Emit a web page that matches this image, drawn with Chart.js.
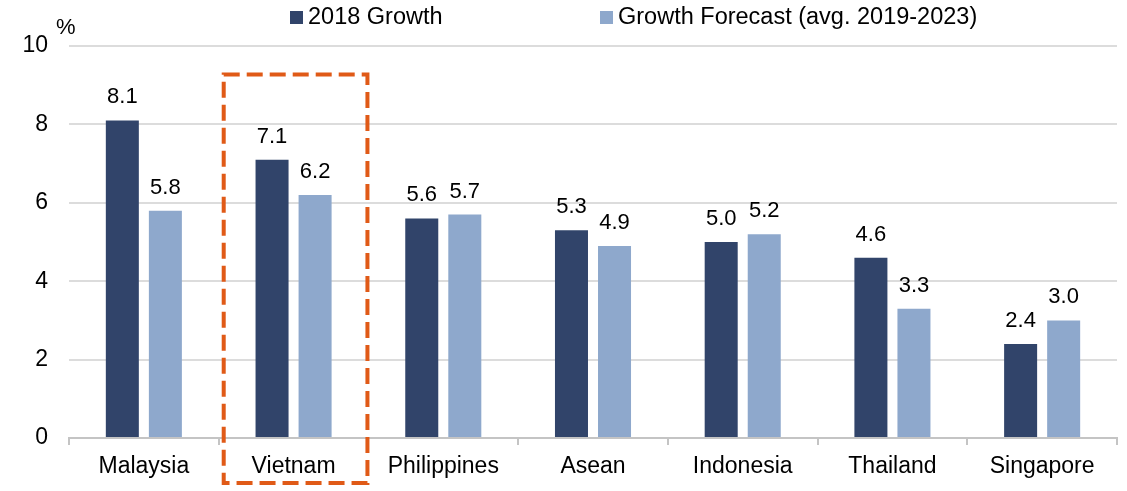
<!DOCTYPE html>
<html>
<head>
<meta charset="utf-8">
<script src="https://cdn.jsdelivr.net/npm/chart.js@4.4.1/dist/chart.umd.min.js"></script>
<style>
  html, body { margin: 0; padding: 0; background: #fff; }
  #wrap { width: 1127px; height: 491px; }
</style>
</head>
<body>
<div id="wrap"><canvas id="chart" width="1127" height="491"></canvas></div>
<script>
const countries = ['Malaysia', 'Vietnam', 'Philippines', 'Asean', 'Indonesia', 'Thailand', 'Singapore'];
const growth2018 = [8.1, 7.1, 5.6, 5.3, 5.0, 4.6, 2.4];
const growthForecast = [5.8, 6.2, 5.7, 4.9, 5.2, 3.3, 3.0];
const yTicks = [0, 2, 4, 6, 8, 10];
const seriesNames = ['2018 Growth', 'Growth Forecast (avg. 2019-2023)'];
const highlighted = 'Vietnam';

const FONT = '"Liberation Sans", Arial, sans-serif';
const DARK = '#31446a';
const LIGHT = '#8ea8cc';
const ORANGE = '#e05a17';

// numbers printed above every bar
const valueLabels = {
    id: 'valueLabels',
    afterDatasetsDraw(chart) {
        const ctx = chart.ctx;
        ctx.save();
        ctx.font = '22px ' + FONT;
        ctx.fillStyle = '#000';
        ctx.textAlign = 'center';
        ctx.textBaseline = 'alphabetic';
        chart.data.datasets.forEach((ds, i) => {
            chart.getDatasetMeta(i).data.forEach((bar, j) => {
                ctx.fillText(ds.data[j].toFixed(1), bar.x, bar.y - 17);
            });
        });
        ctx.restore();
    }
};

// legend row at the top plus the "%" unit over the y axis
const topLegend = {
    id: 'topLegend',
    afterDraw(chart) {
        const ctx = chart.ctx;
        const starts = [290, 600];
        ctx.save();
        ctx.font = '23.5px ' + FONT;
        ctx.textBaseline = 'middle';
        ctx.textAlign = 'left';
        chart.data.datasets.forEach((ds, i) => {
            ctx.fillStyle = ds.backgroundColor;
            ctx.fillRect(starts[i], 11, 13, 13);
            ctx.fillStyle = '#000';
            ctx.fillText(ds.label, starts[i] + 18, 18);
        });
        ctx.font = '22px ' + FONT;
        ctx.fillText('%', chart.scales.y.left + 56, 28);
        ctx.restore();
    }
};

// dashed frame around the highlighted country
const highlightBox = {
    id: 'highlightBox',
    afterDraw(chart) {
        const ctx = chart.ctx;
        const x = chart.scales.x, y = chart.scales.y;
        const idx = countries.indexOf(highlighted);
        const cx = x.getPixelForValue(idx) + 2;
        const half = (x.width / countries.length) * 0.48;
        const top = y.getPixelForValue(9.27);
        const bottom = chart.height - 8;
        ctx.save();
        ctx.strokeStyle = ORANGE;
        ctx.lineWidth = 4;
        ctx.setLineDash([16, 7]);
        ctx.strokeRect(cx - half, top, half * 2, bottom - top);
        ctx.restore();
    }
};

new Chart(document.getElementById('chart'), {
    type: 'bar',
    data: {
        labels: countries,
        datasets: [{
            label: seriesNames[0],
            data: growth2018,
            backgroundColor: DARK,
            categoryPercentage: 0.575,
            barPercentage: 0.767
        }, {
            label: seriesNames[1],
            data: growthForecast,
            backgroundColor: LIGHT,
            categoryPercentage: 0.575,
            barPercentage: 0.767
        }]
    },
    options: {
        responsive: false,
        animation: false,
        layout: { padding: { top: 46, right: 10, left: 0, bottom: 0 } },
        plugins: {
            legend: { display: false },
            tooltip: { enabled: false }
        },
        scales: {
            x: {
                grid: { display: true, drawOnChartArea: false, tickLength: 7, color: '#c4c4c4', lineWidth: 2 },
                border: { color: '#c4c4c4', width: 2 },
                ticks: { color: '#000', font: { family: FONT, size: 23 }, padding: 8 },
                afterFit(s) { s.height = 53; }
            },
            y: {
                min: 0,
                max: 10,
                afterBuildTicks(s) { s.ticks = yTicks.map(v => ({ value: v })); },
                grid: { color: '#dcdcdc', lineWidth: 2, drawTicks: false },
                border: { display: false },
                ticks: { color: '#000', font: { family: FONT, size: 23 }, padding: 21 },
                afterFit(s) { s.width = 69; }
            }
        }
    },
    plugins: [valueLabels, highlightBox, topLegend]
});
</script>
</body>
</html>
